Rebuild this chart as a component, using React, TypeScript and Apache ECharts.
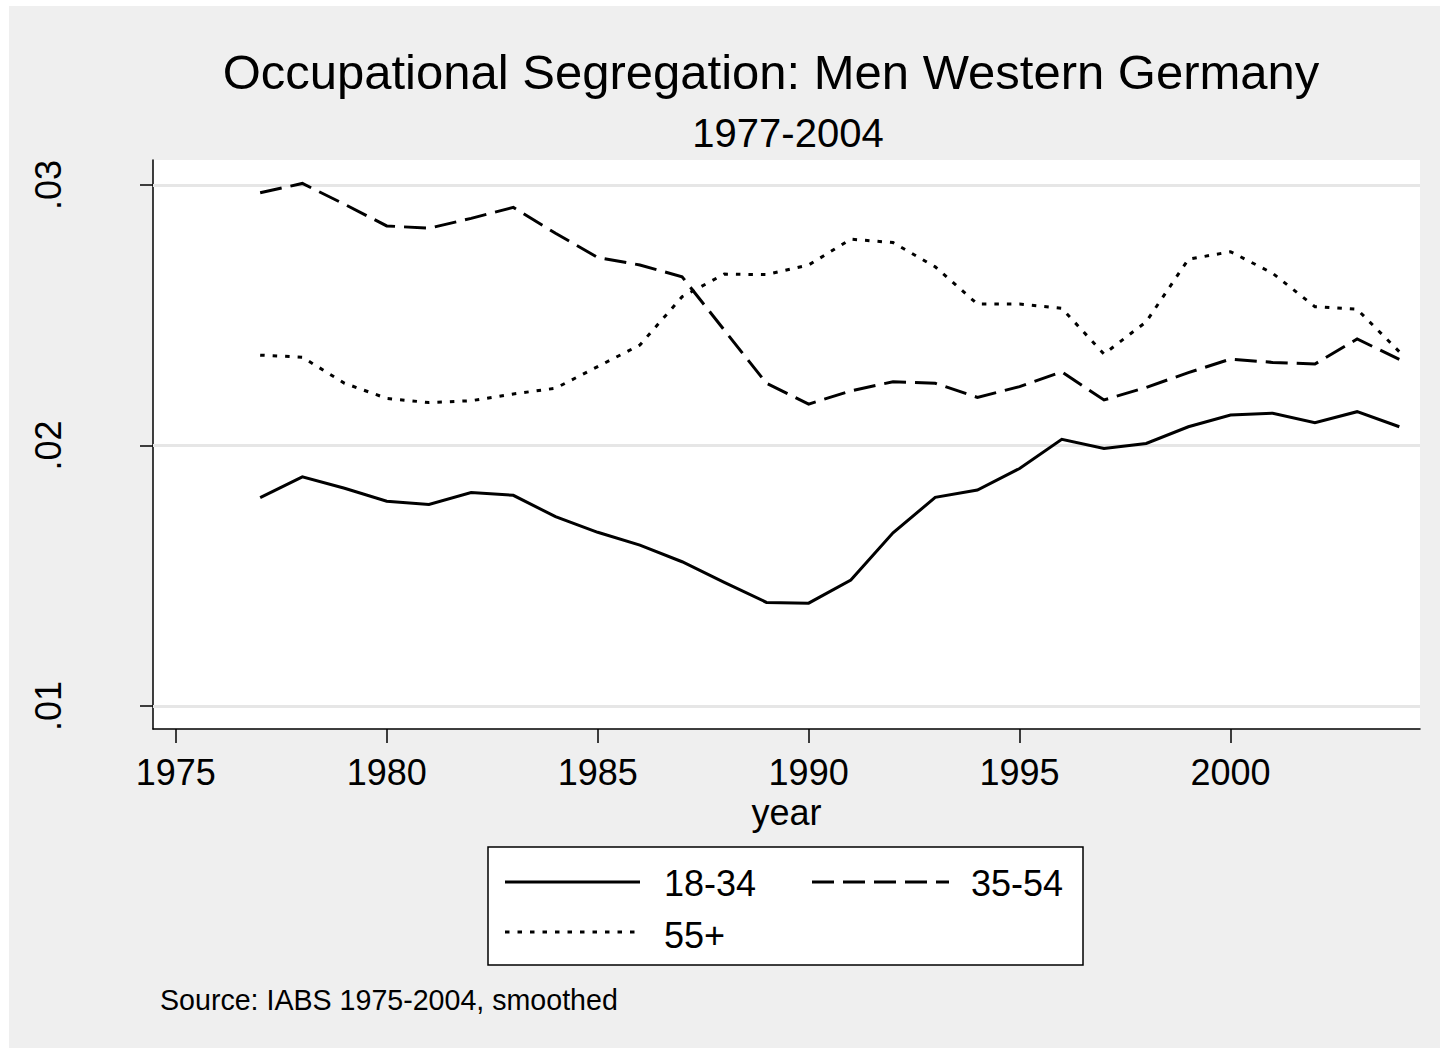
import React, { useEffect, useRef } from "react";
import * as echarts from "echarts";

const years = [1977, 1978, 1979, 1980, 1981, 1982, 1983, 1984, 1985, 1986, 1987, 1988, 1989, 1990, 1991, 1992, 1993, 1994, 1995, 1996, 1997, 1998, 1999, 2000, 2001, 2002, 2003, 2004];

const age1834 = [0.0180, 0.0188, 0.01836, 0.01786, 0.01774, 0.0182, 0.01809, 0.01727, 0.01667, 0.01618, 0.01554, 0.01475, 0.01398, 0.01395, 0.01484, 0.01665, 0.01801, 0.01829, 0.01912, 0.02024, 0.01989, 0.02008, 0.02072, 0.02117, 0.02124, 0.02088, 0.0213, 0.02072];
const age3554 = [0.0297, 0.03006, 0.02926, 0.02843, 0.02834, 0.02872, 0.02914, 0.02815, 0.02722, 0.02693, 0.02648, 0.02443, 0.02239, 0.02159, 0.0221, 0.02245, 0.02239, 0.02185, 0.02226, 0.02283, 0.02175, 0.02223, 0.0228, 0.02332, 0.02319, 0.02313, 0.02409, 0.02331];
const age55 = [0.02347, 0.02339, 0.02239, 0.02181, 0.02165, 0.02172, 0.02198, 0.0222, 0.02303, 0.02386, 0.02571, 0.02658, 0.02656, 0.02693, 0.02792, 0.02779, 0.02686, 0.02543, 0.02543, 0.02527, 0.02351, 0.02475, 0.02715, 0.02744, 0.02661, 0.02533, 0.02523, 0.0236];

const xTicks = [1975, 1980, 1985, 1990, 1995, 2000];
const yTicks = [0.01, 0.02, 0.03];

const seriesNames = ["18-34", "35-54", "55+"];
const titleText = "Occupational Segregation: Men Western Germany";
const subtitleText = "1977-2004";
const xName = "year";
const noteText = "Source: IABS 1975-2004, smoothed";

const FONT = "'Liberation Sans', Arial, Helvetica, sans-serif";
const DASH = [22, 9];
const DOT = [4.5, 8];

export default function App() {
  const ref = useRef<HTMLDivElement>(null);

  useEffect(() => {
    if (!ref.current) return;
    const chart = echarts.init(ref.current, null, { renderer: "svg" });
    const toPairs = (vals: number[]) => years.map((y, i) => [y, vals[i]]);
    const lineSeries = (name: string, vals: number[], type: any, extra: any = {}) => ({
      name,
      type: "line",
      data: toPairs(vals),
      symbol: "none",
      showSymbol: false,
      silent: true,
      z: 3,
      lineStyle: { color: "#000", width: 3, type, cap: "butt", join: "miter" },
      ...extra,
    });

    chart.setOption({
      animation: false,
      backgroundColor: "#ffffff",
      textStyle: { fontFamily: FONT },
      grid: {
        left: 153,
        top: 160,
        width: 1267,
        height: 569,
        show: true,
        backgroundColor: "#ffffff",
        borderWidth: 0,
        containLabel: false,
        outerBoundsMode: "none",
      },
      xAxis: {
        type: "value",
        min: 1974.46,
        max: 2004.49,
        name: xName,
        nameLocation: "middle",
        nameGap: 55,
        nameTextStyle: { fontSize: 36, color: "#000", fontFamily: FONT },
        axisLine: { show: true, onZero: false, lineStyle: { color: "#000", width: 1.5 } },
        axisTick: { show: true, length: 14, customValues: xTicks, lineStyle: { color: "#000", width: 1.5 } },
        axisLabel: {
          customValues: xTicks,
          fontSize: 36,
          color: "#000",
          margin: 25,
          fontFamily: FONT,
          formatter: (v: number) => String(Math.round(v)),
        },
        splitLine: { show: false },
      },
      yAxis: {
        type: "value",
        min: 0.00912,
        max: 0.03096,
        axisLine: { show: true, onZero: false, lineStyle: { color: "#000", width: 1.5 } },
        axisTick: { show: true, length: 13, customValues: yTicks, lineStyle: { color: "#000", width: 1.5 } },
        axisLabel: {
          customValues: yTicks,
          fontSize: 36,
          color: "#000",
          rotate: 90,
          align: "center",
          verticalAlign: "middle",
          margin: 105,
          fontFamily: FONT,
          formatter: (v: number) => v.toFixed(2).replace(/^0/, ""),
        },
        splitLine: { show: false },
      },
      series: [
        lineSeries(seriesNames[0], age1834, "solid", {
          markLine: {
            silent: true,
            symbol: "none",
            z: 1,
            label: { show: false },
            lineStyle: { color: "#e6e6e6", width: 3, type: "solid" },
            data: yTicks.map((v) => ({ yAxis: v })),
          },
        }),
        lineSeries(seriesNames[1], age3554, DASH),
        lineSeries(seriesNames[2], age55, DOT),
      ],
      graphic: [
        {
          type: "rect",
          z: -10,
          silent: true,
          shape: { x: 9, y: 6, width: 1431, height: 1042 },
          style: { fill: "#efefef" },
        },
        {
          type: "text",
          x: 771,
          y: 72,
          style: { text: titleText, fontSize: 49, fontFamily: FONT, fill: "#000", align: "center", verticalAlign: "middle" },
        },
        {
          type: "text",
          x: 788,
          y: 133,
          style: { text: subtitleText, fontSize: 40, fontFamily: FONT, fill: "#000", align: "center", verticalAlign: "middle" },
        },
        {
          type: "rect",
          shape: { x: 488, y: 847, width: 595, height: 118 },
          style: { fill: "#ffffff", stroke: "#000", lineWidth: 1.5 },
        },
        {
          type: "line",
          shape: { x1: 505, y1: 882, x2: 640, y2: 882 },
          style: { stroke: "#000", lineWidth: 3 },
        },
        {
          type: "text",
          x: 664,
          y: 883,
          style: { text: seriesNames[0], fontSize: 36, fontFamily: FONT, fill: "#000", align: "left", verticalAlign: "middle" },
        },
        {
          type: "line",
          shape: { x1: 812, y1: 882, x2: 949, y2: 882 },
          style: { stroke: "#000", lineWidth: 3, lineDash: DASH },
        },
        {
          type: "text",
          x: 971,
          y: 883,
          style: { text: seriesNames[1], fontSize: 36, fontFamily: FONT, fill: "#000", align: "left", verticalAlign: "middle" },
        },
        {
          type: "line",
          shape: { x1: 505, y1: 932, x2: 637, y2: 932 },
          style: { stroke: "#000", lineWidth: 3, lineDash: DOT },
        },
        {
          type: "text",
          x: 664,
          y: 935,
          style: { text: seriesNames[2], fontSize: 36, fontFamily: FONT, fill: "#000", align: "left", verticalAlign: "middle" },
        },
        {
          type: "text",
          x: 160,
          y: 1000,
          style: { text: noteText, fontSize: 28.6, fontFamily: FONT, fill: "#000", align: "left", verticalAlign: "middle" },
        },
      ],
    });

    return () => chart.dispose();
  }, []);

  return (
    <div
      ref={ref}
      style={{ position: "absolute", left: 0, top: 0, width: 1443, height: 1053 }}
    />
  );
}
